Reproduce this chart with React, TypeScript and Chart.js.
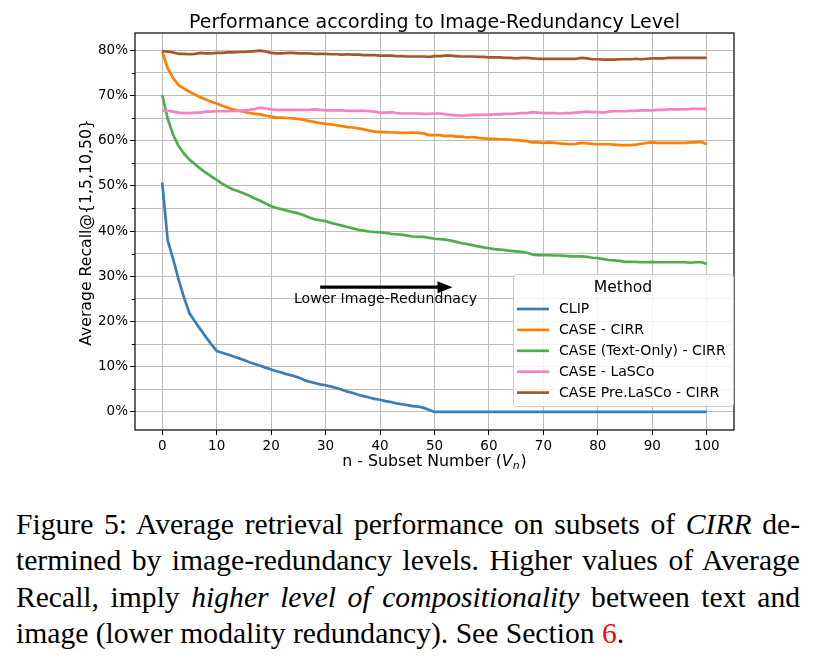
import React, { useEffect, useRef } from "react";
import { Chart, registerables } from "chart.js";

Chart.register(...registerables);

// ---------------- DATA ----------------
const subsetNumbers: number[] = Array.from({ length: 101 }, (_, i) => i);

const clip: number[] = [
  50.7, 38.0, 33.8, 29.3, 25.3, 21.8, 20.0, 18.3, 16.6, 15.0,
  13.5, 13.1, 12.7, 12.3, 11.9, 11.5, 11.0, 10.6, 10.2, 9.8,
  9.4, 9.0, 8.7, 8.3, 8.0, 7.6, 7.1, 6.7, 6.4, 6.1,
  5.9, 5.6, 5.3, 4.9, 4.5, 4.2, 3.8, 3.5, 3.2, 2.9,
  2.7, 2.4, 2.2, 1.9, 1.7, 1.5, 1.3, 1.2, 0.9, 0.5,
  0.0, 0.0, 0.0, 0.0, 0.0, 0.0, 0.0, 0.0, 0.0, 0.0,
  0.0, 0.0, 0.0, 0.0, 0.0, 0.0, 0.0, 0.0, 0.0, 0.0,
  0.0, 0.0, 0.0, 0.0, 0.0, 0.0, 0.0, 0.0, 0.0, 0.0,
  0.0, 0.0, 0.0, 0.0, 0.0, 0.0, 0.0, 0.0, 0.0, 0.0,
  0.0, 0.0, 0.0, 0.0, 0.0, 0.0, 0.0, 0.0, 0.0, 0.0,
  0.0,
];

const caseCirr: number[] = [
  79.7, 76.0, 73.8, 72.3, 71.5, 70.8, 70.2, 69.6, 69.1, 68.6,
  68.2, 67.7, 67.3, 66.9, 66.6, 66.4, 66.1, 65.9, 65.8, 65.5,
  65.3, 65.1, 65.1, 65.0, 64.9, 64.8, 64.6, 64.3, 64.1, 63.9,
  63.7, 63.6, 63.4, 63.2, 63.0, 62.9, 62.7, 62.5, 62.2, 62.0,
  61.9, 61.9, 61.8, 61.8, 61.7, 61.7, 61.8, 61.7, 61.6, 61.2,
  61.2, 61.2, 61.0, 61.1, 60.9, 60.9, 60.7, 60.8, 60.6, 60.5,
  60.4, 60.4, 60.3, 60.3, 60.2, 60.1, 60.0, 59.9, 59.6, 59.6,
  59.5, 59.6, 59.5, 59.4, 59.3, 59.2, 59.3, 59.5, 59.4, 59.3,
  59.2, 59.2, 59.2, 59.1, 59.0, 59.0, 59.0, 59.1, 59.3, 59.5,
  59.6, 59.5, 59.5, 59.5, 59.5, 59.5, 59.5, 59.6, 59.6, 59.7,
  59.2,
];

const caseTextOnly: number[] = [
  70.1, 64.9, 61.3, 58.8, 57.1, 55.8, 54.8, 53.8, 52.9, 52.1,
  51.3, 50.5, 49.8, 49.2, 48.8, 48.3, 47.8, 47.2, 46.7, 46.1,
  45.5, 45.1, 44.8, 44.5, 44.2, 43.9, 43.5, 43.0, 42.6, 42.4,
  42.2, 41.8, 41.5, 41.2, 40.9, 40.6, 40.3, 40.1, 39.9, 39.8,
  39.7, 39.6, 39.4, 39.3, 39.2, 39.0, 38.8, 38.7, 38.7, 38.5,
  38.3, 38.2, 38.1, 37.9, 37.6, 37.3, 37.1, 36.9, 36.6, 36.4,
  36.2, 36.0, 35.9, 35.8, 35.6, 35.5, 35.4, 35.2, 34.8, 34.7,
  34.7, 34.7, 34.6, 34.6, 34.5, 34.4, 34.4, 34.4, 34.3, 34.1,
  34.0, 33.8, 33.6, 33.5, 33.4, 33.2, 33.2, 33.2, 33.1, 33.1,
  33.2, 33.1, 33.1, 33.1, 33.1, 33.1, 33.1, 33.0, 33.1, 33.1,
  32.7,
];

const caseLasco: number[] = [
  66.7, 66.6, 66.4, 66.2, 66.1, 66.1, 66.2, 66.2, 66.4, 66.4,
  66.5, 66.5, 66.5, 66.6, 66.6, 66.7, 66.8, 67.0, 67.3, 67.1,
  66.9, 66.8, 66.8, 66.8, 66.8, 66.8, 66.8, 66.8, 66.9, 66.8,
  66.7, 66.7, 66.7, 66.7, 66.6, 66.6, 66.6, 66.6, 66.5, 66.4,
  66.2, 66.2, 66.3, 66.1, 66.0, 66.0, 66.0, 66.0, 65.9, 65.9,
  66.0, 66.0, 65.8, 65.7, 65.6, 65.5, 65.6, 65.7, 65.7, 65.7,
  65.7, 65.8, 65.8, 65.9, 65.9, 66.0, 66.1, 66.1, 66.3, 66.2,
  66.1, 66.1, 66.1, 66.0, 66.1, 66.1, 66.2, 66.3, 66.4, 66.3,
  66.3, 66.2, 66.4, 66.5, 66.5, 66.5, 66.6, 66.6, 66.7, 66.7,
  66.7, 66.8, 66.8, 66.9, 66.9, 66.9, 66.9, 67.0, 67.0, 67.0,
  67.0,
];

const casePreLasco: number[] = [
  79.8, 79.7, 79.5, 79.2, 79.2, 79.1, 79.2, 79.4, 79.3, 79.3,
  79.4, 79.4, 79.5, 79.5, 79.6, 79.6, 79.7, 79.8, 79.9, 79.7,
  79.4, 79.3, 79.3, 79.4, 79.4, 79.3, 79.3, 79.3, 79.2, 79.2,
  79.2, 79.1, 79.1, 79.0, 79.1, 79.0, 79.0, 78.9, 78.9, 78.9,
  78.8, 78.8, 78.8, 78.7, 78.7, 78.6, 78.6, 78.6, 78.6, 78.5,
  78.7, 78.7, 78.8, 78.8, 78.7, 78.6, 78.6, 78.6, 78.5, 78.5,
  78.4, 78.4, 78.4, 78.3, 78.3, 78.2, 78.3, 78.3, 78.2, 78.1,
  78.1, 78.1, 78.1, 78.1, 78.1, 78.1, 78.1, 78.3, 78.2, 78.0,
  78.0, 77.9, 77.9, 77.9, 78.0, 78.0, 78.0, 78.1, 78.0, 78.1,
  78.2, 78.2, 78.2, 78.3, 78.3, 78.3, 78.3, 78.3, 78.3, 78.3,
  78.3,
];

const seriesLabels: string[] = [
  "CLIP",
  "CASE - CIRR",
  "CASE (Text-Only) - CIRR",
  "CASE - LaSCo",
  "CASE Pre.LaSCo - CIRR",
];
const seriesValues: number[][] = [clip, caseCirr, caseTextOnly, caseLasco, casePreLasco];
const seriesColors: string[] = ["#377eb8", "#ff7f00", "#4daf4a", "#f781bf", "#a65628"];

const xTickValues: number[] = [0, 10, 20, 30, 40, 50, 60, 70, 80, 90, 100];
const yTickValues: number[] = [0, 5, 10, 15, 20, 25, 30, 35, 40, 45, 50, 55, 60, 65, 70, 75, 80];
const yMajorTicks: number[] = [0, 10, 20, 30, 40, 50, 60, 70, 80];

const chartTitle = "Performance according to Image-Redundancy Level";
const yAxisTitle = "Average Recall@{1,5,10,50}";
const xAxisTitleMain = "n - Subset Number (";
const legendTitle = "Method";
const annotationText = "Lower Image-Redundnacy";
const arrowFrom: [number, number] = [29, 27.6];
const arrowTo: [number, number] = [53.3, 27.6];
const annotationAt: [number, number] = [41, 25.0];

// ---------------- DRAWING ----------------
const FONT = '"DejaVu Sans", sans-serif';

const overlayPlugin = {
  id: "overlay",
  afterDraw(chart: any) {
    const { ctx, chartArea: a, scales } = chart;
    const xs = scales.x;
    const ys = scales.y;
    ctx.save();

    // minor y ticks
    ctx.strokeStyle = "#000";
    ctx.lineWidth = 1;
    for (const v of yTickValues) {
      if (yMajorTicks.includes(v)) continue;
      const py = Math.round(ys.getPixelForValue(v)) + 0.5;
      ctx.beginPath();
      ctx.moveTo(a.left - 3, py);
      ctx.lineTo(a.left, py);
      ctx.stroke();
    }

    // frame (spines)
    ctx.lineWidth = 1.2;
    ctx.strokeStyle = "#000";
    ctx.strokeRect(a.left, a.top, a.right - a.left, a.bottom - a.top);

    // title
    ctx.fillStyle = "#000";
    ctx.font = `19px ${FONT}`;
    ctx.textAlign = "center";
    ctx.textBaseline = "alphabetic";
    ctx.fillText(chartTitle, (a.left + a.right) / 2, 28);

    // x axis title with italic V and subscript n
    const fMain = `15.8px ${FONT}`;
    const fItal = `italic 15.8px ${FONT}`;
    const fSub = `italic 11px ${FONT}`;
    ctx.textAlign = "left";
    ctx.font = fMain;
    const w1 = ctx.measureText(xAxisTitleMain).width;
    const w3 = ctx.measureText(")").width;
    ctx.font = fItal;
    const w2 = ctx.measureText("V").width;
    ctx.font = fSub;
    const wsub = ctx.measureText("n").width;
    const total = w1 + w2 + wsub + w3 + 1;
    let cx = (a.left + a.right) / 2 - total / 2;
    const by = 465.5;
    ctx.font = fMain;
    ctx.fillText(xAxisTitleMain, cx, by);
    cx += w1;
    ctx.font = fItal;
    ctx.fillText("V", cx, by);
    cx += w2;
    ctx.font = fSub;
    ctx.fillText("n", cx, by + 3.5);
    cx += wsub + 1;
    ctx.font = fMain;
    ctx.fillText(")", cx, by);

    // y axis title
    ctx.save();
    ctx.translate(87, (a.top + a.bottom) / 2 + 1);
    ctx.rotate(-Math.PI / 2);
    ctx.font = `15.7px ${FONT}`;
    ctx.textAlign = "center";
    ctx.textBaseline = "middle";
    ctx.fillText(yAxisTitle, 0, 0);
    ctx.restore();

    // annotation arrow
    const ax0 = xs.getPixelForValue(arrowFrom[0]);
    const ay = ys.getPixelForValue(arrowFrom[1]);
    const ax1 = xs.getPixelForValue(arrowTo[0]);
    ctx.strokeStyle = "#000";
    ctx.fillStyle = "#000";
    ctx.lineWidth = 3.2;
    ctx.beginPath();
    ctx.moveTo(ax0, ay);
    ctx.lineTo(ax1 - 12, ay);
    ctx.stroke();
    ctx.beginPath();
    ctx.moveTo(ax1, ay);
    ctx.lineTo(ax1 - 15, ay - 6);
    ctx.lineTo(ax1 - 15, ay + 6);
    ctx.closePath();
    ctx.fill();
    ctx.font = `14.1px ${FONT}`;
    ctx.textAlign = "center";
    ctx.textBaseline = "middle";
    ctx.fillText(annotationText, xs.getPixelForValue(annotationAt[0]), ys.getPixelForValue(annotationAt[1]));

    // legend
    const lx = a.right - 221;
    const lt = a.bottom - 156;
    const lw = 220;
    const lh = 132;
    ctx.beginPath();
    (ctx as any).roundRect(lx + 0.5, lt + 0.5, lw, lh, 3);
    ctx.fillStyle = "rgba(255,255,255,0.8)";
    ctx.fill();
    ctx.strokeStyle = "#cccccc";
    ctx.lineWidth = 1;
    ctx.stroke();
    ctx.fillStyle = "#000";
    ctx.font = `15.6px ${FONT}`;
    ctx.textAlign = "center";
    ctx.textBaseline = "middle";
    ctx.fillText(legendTitle, lx + lw / 2, lt + 13.5);
    ctx.font = `14.1px ${FONT}`;
    ctx.textAlign = "left";
    seriesLabels.forEach((lab, i) => {
      const iy = lt + 35 + i * 20.9;
      ctx.strokeStyle = seriesColors[i];
      ctx.lineWidth = 2.7;
      ctx.beginPath();
      ctx.moveTo(lx + 4, iy);
      ctx.lineTo(lx + 36, iy);
      ctx.stroke();
      ctx.fillStyle = "#000";
      ctx.fillText(lab, lx + 46, iy + 0.5);
    });

    ctx.restore();
  },
};

function PerformanceChart() {
  const ref = useRef<HTMLCanvasElement | null>(null);
  useEffect(() => {
    if (!ref.current) return;
    const datasets = seriesValues.map((vals, i) => ({
      label: seriesLabels[i],
      data: subsetNumbers.map((n, j) => ({ x: n, y: vals[j] })),
      borderColor: seriesColors[i],
      backgroundColor: seriesColors[i],
      borderWidth: 2.7,
      pointRadius: 0,
      tension: 0,
      fill: false,
      order: seriesValues.length - i,
      borderCapStyle: "butt" as const,
      borderJoinStyle: "round" as const,
    }));
    const chart = new Chart(ref.current, {
      type: "line",
      data: { datasets },
      options: {
        responsive: false,
        animation: false,
        devicePixelRatio: 1,
        layout: { padding: { left: 0, right: 81, top: 33, bottom: 0 } },
        plugins: {
          legend: { display: false },
          tooltip: { enabled: false },
          title: { display: false },
        },
        scales: {
          x: {
            type: "linear",
            min: -5,
            max: 105,
            afterBuildTicks: (s: any) => {
              s.ticks = xTickValues.map((v) => ({ value: v }));
            },
            afterFit: (s: any) => {
              s.height = 50;
            },
            border: { display: false },
            grid: {
              color: "#bdbdbd",
              lineWidth: 1,
              drawTicks: true,
              tickLength: 5,
              tickColor: "#000",
            },
            ticks: {
              color: "#000",
              font: { family: "DejaVu Sans", size: 13.5 },
              padding: 3,
              maxRotation: 0,
              callback: (v: any) => String(v),
            },
          },
          y: {
            type: "linear",
            min: -3.99,
            max: 83.8,
            afterBuildTicks: (s: any) => {
              s.ticks = yTickValues.map((v) => ({ value: v }));
            },
            afterFit: (s: any) => {
              s.width = 135;
            },
            border: { display: false },
            grid: {
              color: "#bdbdbd",
              lineWidth: 1,
              drawTicks: true,
              tickLength: 5,
              tickColor: (c: any) =>
                c.tick && yMajorTicks.includes(c.tick.value) ? "#000" : "rgba(0,0,0,0)",
            },
            ticks: {
              color: "#000",
              font: { family: "DejaVu Sans", size: 13.5 },
              padding: 2,
              autoSkip: false,
              callback: (v: any) => (yMajorTicks.includes(Number(v)) ? `${v}%` : ""),
            },
          },
        },
      },
      plugins: [overlayPlugin],
    });
    return () => chart.destroy();
  }, []);
  return <canvas ref={ref} width={815} height={480} style={{ display: "block", width: 815, height: 480 }} />;
}

const lineStyle: React.CSSProperties = {
  height: 36.6,
  lineHeight: "36.6px",
  whiteSpace: "nowrap",
  overflow: "visible",
};
const justified: React.CSSProperties = {
  ...lineStyle,
  textAlign: "justify",
  textAlignLast: "justify" as any,
  whiteSpace: "normal",
};

export default function App() {
  return (
    <div
      style={{
        position: "absolute",
        left: 0,
        top: 0,
        width: 815,
        height: 658,
        background: "#fff",
        overflow: "hidden",
      }}
    >
      <PerformanceChart />
      <div
        style={{
          position: "absolute",
          left: 16,
          top: 505.5,
          width: 784,
          fontFamily: '"Liberation Serif", "Times New Roman", serif',
          fontSize: 29.6,
          color: "#000",
        }}
      >
        <div style={justified}>
          Figure 5: Average retrieval performance on subsets of <i>CIRR</i> de-
        </div>
        <div style={justified}>
          termined by image-redundancy levels. Higher values of Average
        </div>
        <div style={justified}>
          Recall, imply <i>higher level of compositionality</i> between text and
        </div>
        <div style={lineStyle}>
          image (lower modality redundancy). See Section <span style={{ color: "#ff0000" }}>6</span>.
        </div>
      </div>
    </div>
  );
}
